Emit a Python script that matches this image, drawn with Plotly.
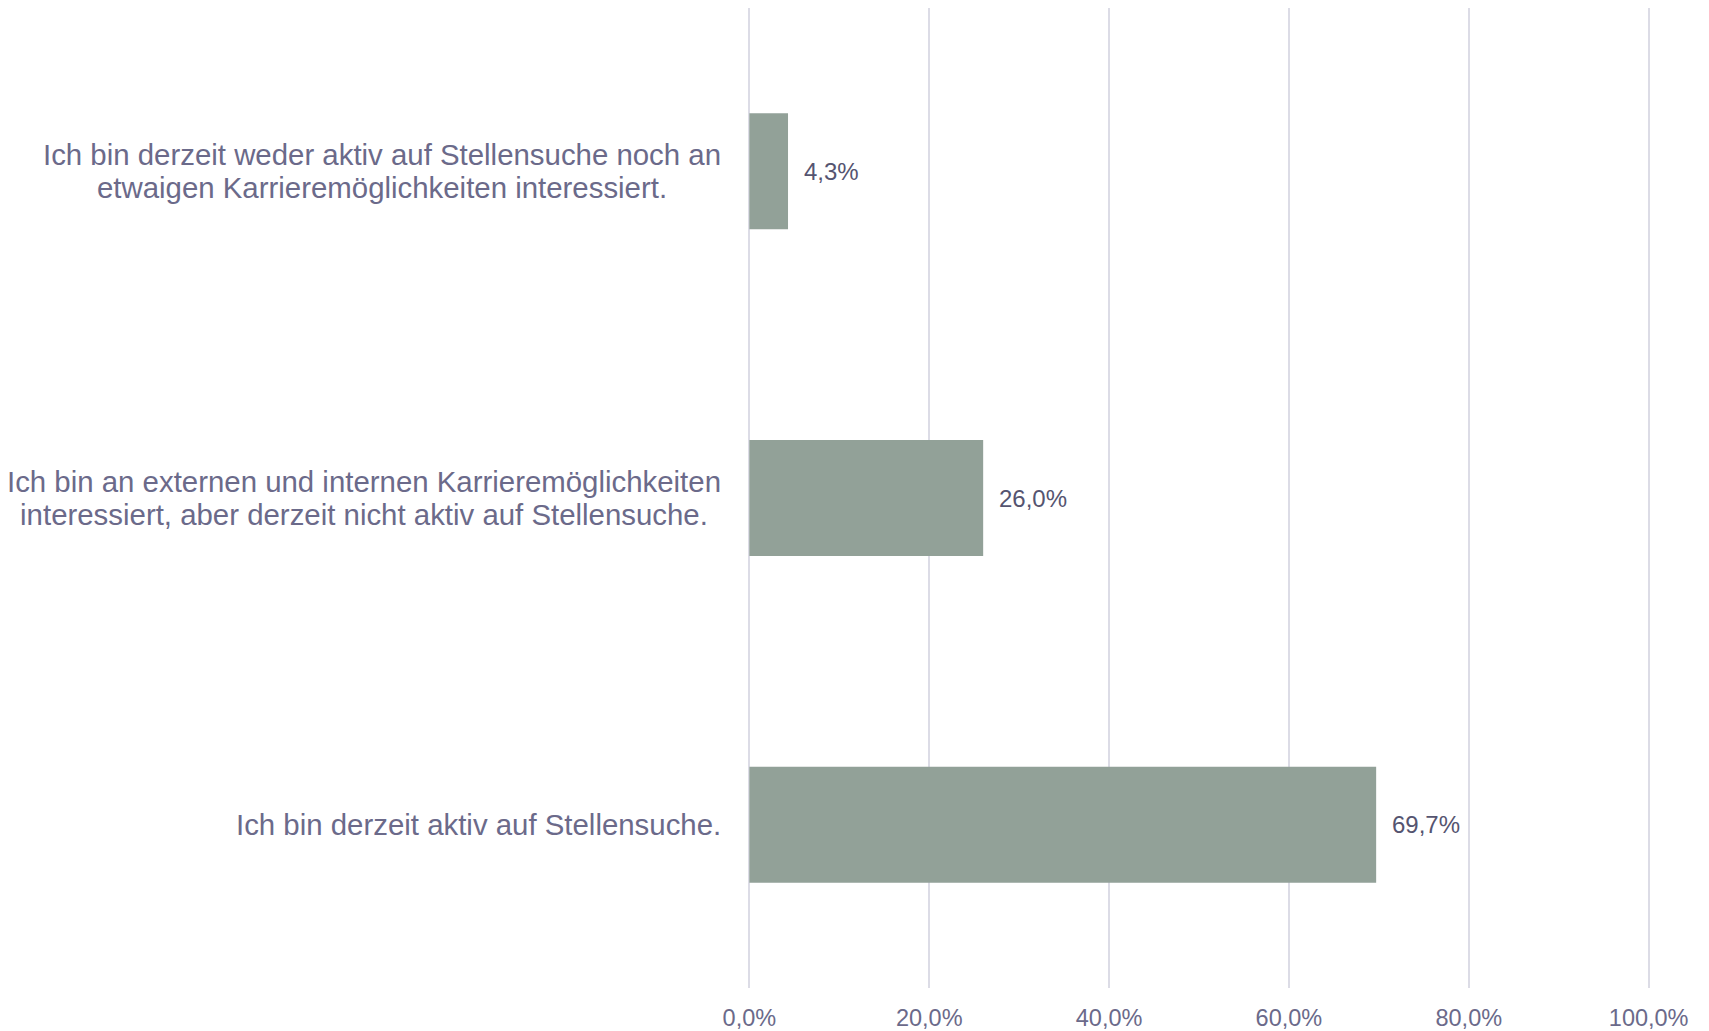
import plotly.graph_objects as go

categories = [
    "Ich bin derzeit weder aktiv auf Stellensuche noch an<br>etwaigen Karrieremöglichkeiten interessiert.",
    "Ich bin an externen und internen Karrieremöglichkeiten<br>interessiert, aber derzeit nicht aktiv auf Stellensuche.",
    "Ich bin derzeit aktiv auf Stellensuche.",
]
values = [4.3, 26.0, 69.7]
value_labels = ["4,3%", "26,0%", "69,7%"]
tick_values = [0, 20, 40, 60, 80, 100]
tick_labels = ["0,0%", "20,0%", "40,0%", "60,0%", "80,0%", "100,0%"]

FONT = "Liberation Sans, Arial, sans-serif"
idx = list(range(len(categories)))

fig = go.Figure(
    go.Bar(
        x=values,
        y=idx,
        orientation="h",
        width=0.355,
        marker=dict(color="#92A198", line=dict(width=0)),
        hoverinfo="skip",
    )
)

annotations = []
for i, (cat, v, lab) in enumerate(zip(categories, values, value_labels)):
    styled = "<br>".join(
        '<span style="font-size:29.4px">' + line + "</span>" for line in cat.split("<br>")
    )
    annotations.append(dict(
        x=0, xref="paper", y=i, yref="y", text=styled, showarrow=False,
        xanchor="right", yanchor="middle", align="center", xshift=-25,
        font=dict(family=FONT, size=25.5, color="#6B6A8A"),
    ))
    annotations.append(dict(
        x=v, xref="x", y=i, yref="y", text=lab, showarrow=False,
        xanchor="left", yanchor="middle", xshift=14,
        font=dict(family=FONT, size=24, color="#555470"),
    ))

fig.update_layout(
    width=1709, height=1031,
    margin=dict(l=740, r=67, t=0, b=51),
    paper_bgcolor="white", plot_bgcolor="white",
    showlegend=False,
    annotations=annotations,
    font=dict(family=FONT),
)
fig.update_xaxes(
    range=[-0.15, 100.15], tickvals=tick_values, ticktext=tick_labels,
    showgrid=True, gridcolor="#DCDCE6", gridwidth=2,
    zeroline=False, showline=False, ticks="",
    tickfont=dict(family=FONT, size=23.5, color="#6B6A8A"),
    ticklabelstandoff=13,
)
fig.update_yaxes(
    range=[2.5, -0.5], showticklabels=False, showgrid=False,
    zeroline=False, showline=False, ticks="",
)

fig.write_html("out.html")
